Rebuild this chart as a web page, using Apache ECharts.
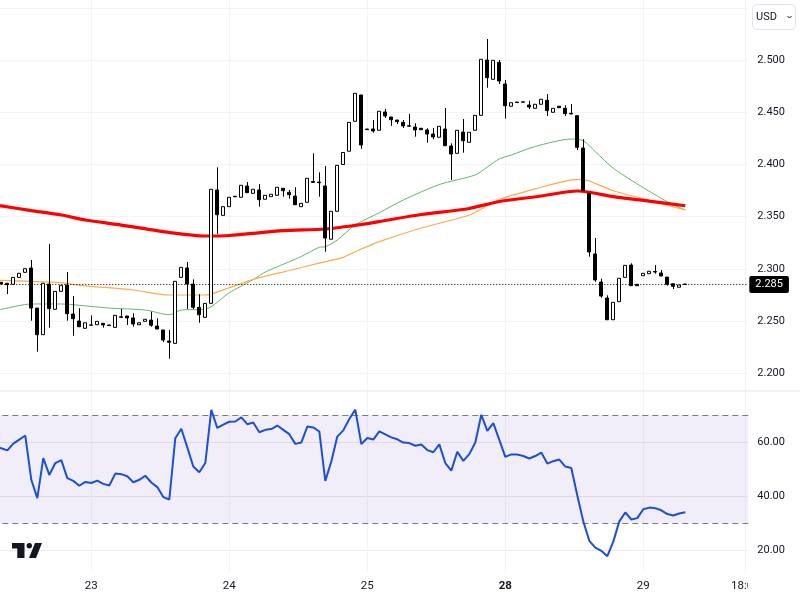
<!DOCTYPE html>
<html><head><meta charset="utf-8">
<style>html,body{margin:0;padding:0;background:#fff}#c{width:800px;height:600px}</style>
<script src="https://cdn.jsdelivr.net/npm/echarts@6/dist/echarts.min.js"></script>
</head><body><div id="c"></div>
<script>
// index 0 is the bar just off the left edge; indices 1..115 are the visible bars
const opens = [2.2868,
2.2871,2.2861,2.2851,2.2918,2.2966,2.3008,2.2624,2.2369,2.2854,2.2612,
2.2784,2.2845,2.2567,2.2500,2.2430,2.2459,2.2464,2.2478,2.2462,2.2439,
2.2540,2.2548,2.2529,2.2464,2.2497,2.2509,2.2452,2.2414,2.2308,2.2286,
2.2918,2.3008,2.2854,2.2631,2.2535,2.2669,2.3755,2.3512,2.3595,2.3695,
2.3685,2.3793,2.3723,2.3755,2.3666,2.3691,2.3704,2.3771,2.3733,2.3697,
2.3595,2.3637,2.3836,2.3831,2.3793,2.3283,2.3551,2.3999,2.4126,2.4413,
2.4665,2.4339,2.4339,2.4327,2.4502,2.4454,2.4425,2.4403,2.4371,2.4358,
2.4346,2.4330,2.4291,2.4260,2.4339,2.4176,2.4106,2.4310,2.4212,2.4327,
2.4470,2.5000,2.4815,2.4978,2.4770,2.4557,2.4597,2.4599,2.4569,2.4537,
2.4576,2.4614,2.4499,2.4557,2.4537,2.4489,2.4467,2.4157,2.3723,2.3142,
2.2873,2.2720,2.2512,2.2685,2.2918,2.3036,2.2851,2.2934,2.2953,2.2974,
2.2960,2.2921,2.2857,2.2823,2.2854];
const closes = [2.2871,
2.2854,2.2848,2.2918,2.2957,2.3001,2.2624,2.2369,2.2861,2.2618,2.2784,
2.2842,2.2570,2.2522,2.2445,2.2483,2.2462,2.2497,2.2462,2.2456,2.2554,
2.2535,2.2529,2.2471,2.2483,2.2516,2.2459,2.2423,2.2318,2.2296,2.2880,
2.3014,2.2854,2.2631,2.2560,2.2669,2.3762,2.3518,2.3595,2.3685,2.3690,
2.3800,2.3729,2.3762,2.3662,2.3704,2.3714,2.3781,2.3748,2.3710,2.3614,
2.3627,2.3867,2.3827,2.3825,2.3295,2.3551,2.3991,2.4114,2.4403,2.4681,
2.4186,2.4333,2.4320,2.4509,2.4464,2.4428,2.4409,2.4368,2.4366,2.4330,
2.4332,2.4291,2.4263,2.4365,2.4179,2.4100,2.4327,2.4227,2.4308,2.4470,
2.5007,2.4831,2.4997,2.4799,2.4562,2.4591,2.4592,2.4596,2.4550,2.4576,
2.4624,2.4515,2.4537,2.4543,2.4486,2.4483,2.4164,2.3748,2.3161,2.2893,
2.2739,2.2512,2.2679,2.2909,2.3033,2.2838,2.2838,2.2957,2.2976,2.2969,
2.2931,2.2851,2.2832,2.2845,2.2850];
const lows = [2.2868,
2.2845,2.2758,2.2851,2.2918,2.2966,2.2503,2.2206,2.2369,2.2436,2.2612,
2.2784,2.2503,2.2359,2.2445,2.2430,2.2459,2.2464,2.2436,2.2456,2.2439,
2.2532,2.2462,2.2445,2.2464,2.2497,2.2445,2.2423,2.2299,2.2139,2.2286,
2.2918,2.2615,2.2612,2.2483,2.2535,2.2669,2.3333,2.3512,2.3595,2.3690,
2.3685,2.3729,2.3723,2.3595,2.3666,2.3691,2.3704,2.3691,2.3671,2.3614,
2.3595,2.3637,2.3825,2.3691,2.3164,2.3283,2.3551,2.3999,2.4126,2.4413,
2.4148,2.4333,2.4304,2.4327,2.4445,2.4368,2.4387,2.4349,2.4358,2.4265,
2.4332,2.4208,2.4241,2.4260,2.4179,2.3851,2.4106,2.4112,2.4212,2.4327,
2.4470,2.4735,2.4815,2.4770,2.4438,2.4557,2.4592,2.4596,2.4531,2.4537,
2.4576,2.4464,2.4499,2.4543,2.4464,2.4483,2.4138,2.3748,2.3116,2.2876,
2.2723,2.2512,2.2512,2.2685,2.2918,2.2838,2.2838,2.2934,2.2953,2.2953,
2.2931,2.2838,2.2806,2.2823,2.2845];
const highs = [2.2871,
2.2873,2.2865,2.2918,2.2957,2.3001,2.3084,2.2624,2.2861,2.3238,2.2784,
2.2842,2.2969,2.2739,2.2622,2.2483,2.2554,2.2497,2.2478,2.2462,2.2554,
2.2615,2.2548,2.2574,2.2483,2.2516,2.2589,2.2526,2.2414,2.2414,2.2880,
2.3014,2.3065,2.2899,2.2756,2.2669,2.3762,2.3972,2.3595,2.3685,2.3695,
2.3800,2.3831,2.3762,2.3812,2.3704,2.3714,2.3781,2.3771,2.3755,2.3781,
2.3627,2.3867,2.4106,2.3924,2.3985,2.3551,2.3991,2.4114,2.4403,2.4681,
2.4665,2.4339,2.4425,2.4509,2.4531,2.4454,2.4425,2.4425,2.4483,2.4394,
2.4346,2.4346,2.4349,2.4365,2.4540,2.4202,2.4327,2.4435,2.4308,2.4470,
2.5007,2.5201,2.4997,2.5000,2.4809,2.4591,2.4597,2.4599,2.4610,2.4576,
2.4624,2.4674,2.4537,2.4557,2.4566,2.4579,2.4467,2.4241,2.3723,2.3295,
2.2905,2.2746,2.2679,2.2909,2.3033,2.3053,2.2851,2.2957,2.2976,2.3036,
2.2988,2.2921,2.2857,2.2845,2.2854];
const rsi = [57.9,
57.7,56.9,59.4,60.9,62.4,46.0,39.2,54.0,47.8,52.2,
53.3,46.6,45.6,43.8,45.2,44.8,45.7,44.5,43.9,48.3,
48.1,47.3,45.1,46.0,47.5,45.0,43.3,39.6,38.7,61.4,
64.9,58.0,50.9,48.8,52.2,71.9,65.2,66.4,67.5,67.6,
69.1,66.6,67.2,63.6,64.5,64.8,66.1,64.5,62.9,59.3,
59.8,65.7,65.4,63.9,45.6,52.8,62.0,64.3,68.5,72.0,
59.2,61.5,60.9,63.9,62.8,61.7,61.0,59.8,59.6,58.6,
59.1,57.0,56.2,59.1,52.2,49.4,56.4,53.0,55.5,59.8,
70.1,64.1,67.0,60.8,54.5,55.4,55.4,54.8,53.9,54.8,
56.1,52.0,52.9,53.5,50.9,50.4,40.2,30.6,23.4,20.9,
19.7,17.7,23.1,30.6,33.9,31.3,31.8,35.1,35.7,35.5,
34.7,33.3,32.8,33.5,34.0];

// moving averages read at selected bars: [bar index, value]
const maGreen = [[0,2.2605],[1,2.2612],[6,2.2663],[11,2.2663],[14,2.2650],[19,2.2624],[25,2.2605],[29,2.2560],[31,2.2605],[35,2.2612],[39,2.2771],[43,2.2897],[45,2.2969],[49,2.3068],[51,2.3118],[54,2.3206],[55,2.3211],[57,2.3276],[60,2.3420],[64,2.3537],[68,2.3659],[74,2.3807],[80,2.3899],[82,2.3975],[84,2.4052],[86,2.4090],[90,2.4172],[96,2.4243],[98,2.4227],[100,2.4122],[103,2.3963],[108,2.3777],[112,2.3643],[115,2.3563]];
const maOrange = [[0,2.2890],[1,2.2890],[6,2.2880],[11,2.2867],[14,2.2842],[23,2.2797],[29,2.2749],[35,2.2749],[39,2.2819],[43,2.2899],[49,2.2984],[54,2.3055],[55,2.3068],[58,2.3110],[60,2.3164],[64,2.3260],[71,2.3391],[79,2.3515],[84,2.3664],[91,2.3781],[96,2.3851],[98,2.3857],[99,2.3841],[103,2.3748],[108,2.3671],[115,2.3563]];
const maRed = [[0,2.3607],[1,2.3602],[6,2.3558],[11,2.3515],[15,2.3467],[21,2.3419],[29,2.3348],[35,2.3314],[39,2.3319],[48,2.3365],[55,2.3381],[61,2.3424],[65,2.3463],[71,2.3520],[79,2.3578],[84,2.3645],[91,2.3697],[97,2.3745],[99,2.3733],[103,2.3691],[108,2.3656],[115,2.3604]];

const lastPrice = 2.285;
const rsiBandHigh = 70, rsiBandLow = 30;
const tickBars = [16,39,62,85,108,125];
const tickLabels = ['23','24','25','28','29','18:00'];
const barCount = 126;
const categories = [];
for (let i = 0; i < barCount; i++) {
  const t = tickBars.indexOf(i);
  categories.push(t >= 0 ? tickLabels[t] : '');
}
const candles = opens.map((o, i) => [o, closes[i], lows[i], highs[i]]);

const FONT = 'Roboto';
const INK = '#131722';
const GRIDC = '#f0f3fa';
const isTick = i => tickBars.indexOf(i) >= 0;
const LEFT = -7.7, WIDTH = 756;
const lineS = (name, data, color, width, z) => ({
  name, type: 'line', data, xAxisIndex: 0, yAxisIndex: 0, showSymbol: false, symbol: 'none',
  smooth: 0.25, silent: true, z,
  lineStyle: { color, width }
});

const chart = echarts.init(document.getElementById('c'), null, { renderer: 'canvas', width: 800, height: 600 });
chart.setOption({
  animation: false,
  backgroundColor: '#fff',
  textStyle: { fontFamily: FONT },
  grid: [
    { left: LEFT, width: WIDTH, top: -44.4, height: 469.8, outerBoundsMode: 'none' },
    { left: LEFT, width: WIDTH, top: 388, height: 216, outerBoundsMode: 'none' },
    { left: LEFT, width: WIDTH, top: 0, height: 572, outerBoundsMode: 'none' }
  ],
  xAxis: [
    { type: 'category', gridIndex: 0, data: categories, show: false },
    { type: 'category', gridIndex: 1, data: categories, show: false },
    { type: 'category', gridIndex: 2, data: categories,
      axisLine: { show: false },
      axisTick: { show: false },
      splitLine: { show: true, interval: isTick, alignWithLabel: true, lineStyle: { color: GRIDC, width: 1 } },
      axisLabel: { interval: isTick, margin: 8, hideOverlap: false, color: INK, fontFamily: FONT, fontSize: 11.5,
        formatter: v => v === '28' ? '{b|28}' : v,
        rich: { b: { fontWeight: 'bold', fontSize: 11.5, color: INK, fontFamily: FONT } } }
    }
  ],
  yAxis: [
    { type: 'value', gridIndex: 0, position: 'right', min: 2.15, max: 2.6, interval: 0.05, scale: true,
      axisLine: { show: false }, axisTick: { show: false },
      splitLine: { show: true, showMinLine: false, showMaxLine: false, lineStyle: { color: GRIDC, width: 1 } },
      axisLabel: { margin: 9, color: INK, fontFamily: FONT, fontSize: 11,
        formatter: v => (v > 2.19 && v < 2.51) ? v.toFixed(3) : '' } },
    { type: 'value', gridIndex: 1, position: 'right', min: 0, max: 80, interval: 20,
      axisLine: { show: false }, axisTick: { show: false },
      splitLine: { show: true, showMinLine: false, showMaxLine: false, lineStyle: { color: '#e9e9f1', width: 1 } },
      axisLabel: { margin: 9, color: INK, fontFamily: FONT, fontSize: 11,
        formatter: v => (v >= 20 && v <= 60) ? v.toFixed(2) : '' } },
    { type: 'value', gridIndex: 2, show: false }
  ],
  series: [
    lineS('MA green', maGreen, '#66b56a', 1, 2),
    lineS('MA orange', maOrange, '#ffa94a', 1.2, 3),
    lineS('MA red', maRed, '#ff0000', 3.2, 4),
    { name: 'Price', type: 'candlestick', xAxisIndex: 0, yAxisIndex: 0, data: candles, barWidth: 3.5, silent: true, z: 5,
      itemStyle: { color: '#ffffff', color0: '#000000', borderColor: '#000000', borderColor0: '#000000', borderWidth: 1 } },
    { name: 'Last price', type: 'line', xAxisIndex: 0, yAxisIndex: 0, data: [[115, lastPrice]], showSymbol: false, symbol: 'none', silent: true, z: 6,
      lineStyle: { width: 0 },
      markLine: { silent: true, symbol: 'none', animation: false, precision: 4,
        lineStyle: { color: '#000', type: [1, 2], width: 1 },
        label: { show: true, position: 'end', distance: 1, formatter: lastPrice.toFixed(3), color: '#fff', backgroundColor: '#000',
          fontFamily: FONT, fontSize: 11, padding: [3, 6, 3, 6], borderRadius: 2 },
        data: [{ yAxis: lastPrice }] } },
    { name: 'RSI', type: 'line', xAxisIndex: 1, yAxisIndex: 1, data: rsi, showSymbol: false, symbol: 'none', silent: true, z: 5,
      lineStyle: { color: '#1b4fd8', width: 2 },
      markArea: { silent: true, itemStyle: { color: 'rgba(126,87,194,0.1)' }, data: [[{ yAxis: rsiBandHigh }, { yAxis: rsiBandLow }]] },
      markLine: { silent: true, symbol: 'none', animation: false, label: { show: false },
        lineStyle: { color: '#787b86', type: [6, 4], width: 1 },
        data: [{ yAxis: rsiBandHigh }, { yAxis: rsiBandLow }] } }
  ],
  graphic: [
    { type: 'line', z: 1, shape: { x1: 0, y1: 391, x2: 800, y2: 391 }, style: { stroke: '#e0e3eb', lineWidth: 1 } },
    { type: 'rect', z: 20, shape: { x: 748, y: 574, width: 52, height: 26 }, style: { fill: '#fff' } },
    { type: 'rect', z: 20, shape: { x: 752.5, y: 4.5, width: 43, height: 25, r: 4 }, style: { fill: '#fff', stroke: '#e0e3eb', lineWidth: 1 } },
    { type: 'text', z: 21, style: { x: 756, y: 17, text: 'USD', fill: INK, font: '11px Roboto', textVerticalAlign: 'middle' } },
    { type: 'polyline', z: 21, shape: { points: [[787.5, 16], [789.5, 18], [791.5, 16]] }, style: { stroke: INK, lineWidth: 1, fill: 'none' } },
    { type: 'polygon', z: 21, shape: { points: [[12, 543], [24.5, 543], [24.5, 558], [17.3, 558], [17.3, 548.5], [12, 548.5]] }, style: { fill: INK } },
    { type: 'circle', z: 21, shape: { cx: 29.3, cy: 545.7, r: 2.7 }, style: { fill: INK } },
    { type: 'polygon', z: 21, shape: { points: [[35, 543], [42, 543], [36, 558], [29, 558]] }, style: { fill: INK } }
  ]
});
</script></body></html>
